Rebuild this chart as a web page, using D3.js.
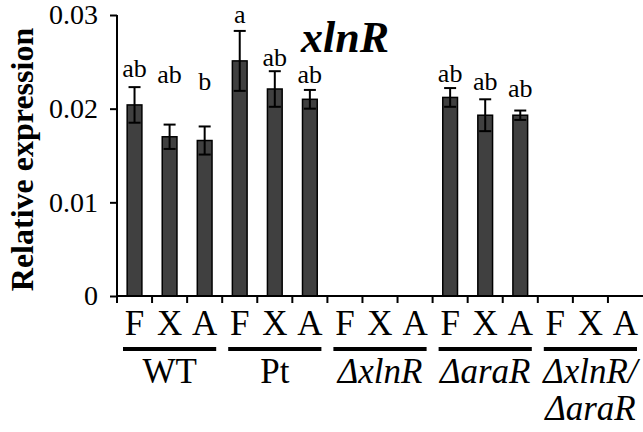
<!DOCTYPE html>
<html>
<head>
<meta charset="utf-8">
<script src="https://cdn.jsdelivr.net/npm/d3@7"></script>
<style>
    body { margin: 0; background: #fff; }
    svg text { font-family: "Liberation Serif", "DejaVu Serif", serif; }
</style>
</head>
<body>
<div id="chart"></div>
<script>
// Strains and carbon sources (x axis)
const strains = ["WT", "Pt", "ΔxlnR", "ΔaraR", "ΔxlnR/ΔaraR"];
const sources = ["F", "X", "A"];

// Relative expression of xlnR, one value per strain x source
const means = [0.0204, 0.0170, 0.0166, 0.0251, 0.0221, 0.0210, 0, 0, 0, 0.0212, 0.0193, 0.0193, 0, 0, 0];
const errors = [0.0019, 0.0013, 0.0015, 0.0032, 0.0019, 0.0010, 0, 0, 0, 0.0010, 0.0017, 0.0005, 0, 0, 0];

// Significance letters and the expression level their baseline sits at
const letters = ["ab", "ab", "b", "a", "ab", "ab", "", "", "", "ab", "ab", "ab", "", "", ""];
const letterAt = [0.0234, 0.0227, 0.0220, 0.0292, 0.0246, 0.0227, 0, 0, 0, 0.0229, 0.0220, 0.0212, 0, 0, 0];

const yTicks = [0, 0.01, 0.02, 0.03];

const serif = "'Liberation Serif', 'DejaVu Serif', serif";

// Build one row per bar
const data = [];
strains.forEach((strain, i) => {
    sources.forEach((source, j) => {
        const k = i * 3 + j;
        data.push({ id: k, strain, source, value: means[k], err: errors[k], letter: letters[k], letterAt: letterAt[k] });
    });
});

const W = 643, H = 432;
const margin = { top: 15, right: 0, bottom: 136, left: 117 };
const plotW = W - margin.left - margin.right;
const plotH = H - margin.top - margin.bottom;

const svg = d3.select("#chart")
    .append("svg")
    .attr("width", W)
    .attr("height", H)
    .attr("font-family", serif);

const g = svg.append("g")
    .attr("transform", `translate(${margin.left},${margin.top})`);

const x = d3.scaleBand()
    .domain(data.map(d => d.id))
    .range([0, plotW])
    .paddingInner(0.58)
    .paddingOuter(0.29);

const y = d3.scaleLinear()
    .domain([0, 0.03])
    .range([plotH, 0]);

// Bars
g.selectAll(".bar")
    .data(data.filter(d => d.value > 0))
    .enter()
    .append("rect")
    .attr("class", "bar")
    .attr("x", d => x(d.id))
    .attr("y", d => y(d.value))
    .attr("width", x.bandwidth())
    .attr("height", d => plotH - y(d.value))
    .attr("fill", "#404040")
    .attr("stroke", "#000")
    .attr("stroke-width", 1.5);

// Error bars (up and down)
const cap = 6;
const eb = g.selectAll(".err")
    .data(data.filter(d => d.value > 0))
    .enter()
    .append("g")
    .attr("class", "err")
    .attr("stroke", "#000")
    .attr("stroke-width", 2);

eb.append("line")
    .attr("x1", d => x(d.id) + x.bandwidth() / 2)
    .attr("x2", d => x(d.id) + x.bandwidth() / 2)
    .attr("y1", d => y(d.value - d.err))
    .attr("y2", d => y(d.value + d.err));

eb.append("line")
    .attr("x1", d => x(d.id) + x.bandwidth() / 2 - cap)
    .attr("x2", d => x(d.id) + x.bandwidth() / 2 + cap)
    .attr("y1", d => y(d.value + d.err))
    .attr("y2", d => y(d.value + d.err));

eb.append("line")
    .attr("x1", d => x(d.id) + x.bandwidth() / 2 - cap)
    .attr("x2", d => x(d.id) + x.bandwidth() / 2 + cap)
    .attr("y1", d => y(d.value - d.err))
    .attr("y2", d => y(d.value - d.err));

// Significance letters
g.selectAll(".letter")
    .data(data.filter(d => d.letter))
    .enter()
    .append("text")
    .attr("class", "letter")
    .attr("x", d => x(d.id) + x.bandwidth() / 2)
    .attr("y", d => y(d.letterAt))
    .attr("text-anchor", "middle")
    .attr("font-size", 26)
    .text(d => d.letter);

// Y axis
const yAxis = g.append("g")
    .call(d3.axisLeft(y).tickValues(yTicks).tickFormat(d => d === 0 ? "0" : d3.format(".2f")(d))
        .tickSize(7).tickSizeOuter(0).tickPadding(12));
yAxis.attr("font-family", serif);
yAxis.select(".domain").attr("stroke-width", 2).attr("d", `M0,0V${plotH + 7}`);
yAxis.selectAll(".tick line").attr("stroke-width", 2);
yAxis.selectAll("text").attr("font-size", 28).attr("fill", "#000");

// X axis: ticks at band boundaries
const step = x.step();
const xAxis = g.append("g").attr("transform", `translate(0,${plotH})`);
xAxis.append("line")
    .attr("x1", 0).attr("x2", plotW)
    .attr("stroke", "#000").attr("stroke-width", 2);
xAxis.selectAll(".xtick")
    .data(data)
    .enter()
    .append("line")
    .attr("x1", d => x(d.id) - x.paddingOuter() * step)
    .attr("x2", d => x(d.id) - x.paddingOuter() * step)
    .attr("y1", 0).attr("y2", 7)
    .attr("stroke", "#000").attr("stroke-width", 2);

// Carbon source labels
xAxis.selectAll(".src")
    .data(data)
    .enter()
    .append("text")
    .attr("x", d => x(d.id) + x.bandwidth() / 2)
    .attr("y", 39)
    .attr("text-anchor", "middle")
    .attr("font-size", 35)
    .text(d => d.source);

// Strain underlines and names
const groupX = i => x(i * 3) - x.paddingOuter() * step;
strains.forEach((s, i) => {
    xAxis.append("rect")
        .attr("x", groupX(i) + 6)
        .attr("y", 51)
        .attr("width", step * 3 - 12)
        .attr("height", 4)
        .attr("fill", "#000");
});

const cx = i => groupX(i) + step * 1.5;
strains.forEach((s, i) => {
    const t = xAxis.append("text")
        .attr("x", cx(i))
        .attr("y", 87)
        .attr("text-anchor", "middle")
        .attr("font-size", 35);
    if (s === "WT" || s === "Pt") {
        t.text(s);
    } else if (s.includes("/")) {
        t.attr("font-style", "italic").text("ΔxlnR/");
        xAxis.append("text")
            .attr("x", cx(i))
            .attr("y", 124)
            .attr("text-anchor", "middle")
            .attr("font-size", 35)
            .attr("font-style", "italic")
            .text("ΔaraR");
    } else {
        t.attr("font-style", "italic").text(s);
    }
});

// Y axis title
svg.append("text")
    .attr("transform", `translate(33,${margin.top + plotH / 2 + 4}) rotate(-90)`)
    .attr("text-anchor", "middle")
    .attr("font-size", 32)
    .attr("font-weight", "bold")
    .text("Relative expression");

// Gene name
svg.append("text")
    .attr("x", 301)
    .attr("y", 52)
    .attr("font-size", 44)
    .attr("font-weight", "bold")
    .attr("font-style", "italic")
    .text("xlnR");
</script>
</body>
</html>
